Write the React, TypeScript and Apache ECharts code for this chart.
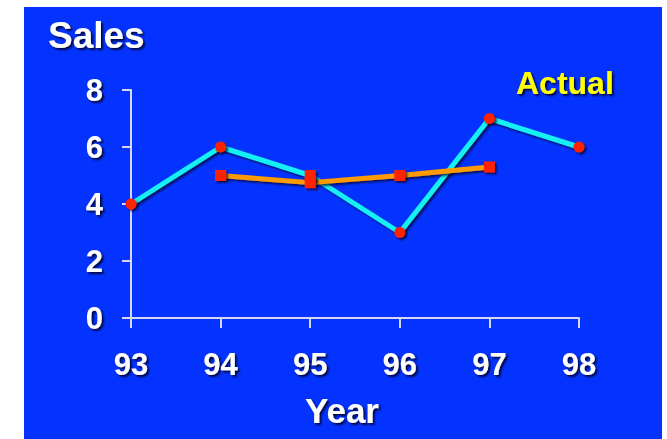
import React, { useEffect, useRef } from "react";
import * as echarts from "echarts";

// Year categories and the two sales series
const years = ["93", "94", "95", "96", "97", "98"];
const actualSales = [4, 6, 5, 3, 7, 6];
const plannedSales: (number | string)[] = ["-", 5, 4.75, 5, 5.3, "-"];
const yTicks = { min: 0, max: 8, interval: 2 };

const FONT = '"Liberation Sans", Arial, sans-serif';
const BLUE = "#0433ff";
const CYAN = "#14f0f5";
const ORANGE = "#ff9a00";
const RED = "#ff2200";
const AXIS = "#d6d8ee";

const textShadow = {
  textShadowColor: "rgba(0,0,30,0.85)",
  textShadowBlur: 2,
  textShadowOffsetX: 2,
  textShadowOffsetY: 2,
};

const lineShadow = {
  shadowColor: "rgba(0,0,30,0.7)",
  shadowBlur: 2,
  shadowOffsetX: 2,
  shadowOffsetY: 2,
};

export default function App() {
  const ref = useRef<HTMLDivElement>(null);

  useEffect(() => {
    if (!ref.current) return;
    const chart = echarts.init(ref.current, undefined, { renderer: "svg" });

    chart.setOption({
      animation: false,
      backgroundColor: "#ffffff",
      graphic: [
        {
          type: "rect",
          z: -10,
          silent: true,
          shape: { x: 24, y: 7, width: 638, height: 432 },
          style: { fill: BLUE },
        },
        {
          type: "text",
          x: 48,
          y: 17,
          style: {
            text: "Sales",
            fill: "#ffffff",
            font: `bold 37px ${FONT}`,
            ...textShadow,
          },
        },
        {
          type: "text",
          x: 342,
          y: 393,
          style: {
            text: "Year",
            fill: "#ffffff",
            font: `bold 35px ${FONT}`,
            align: "center",
            ...textShadow,
          },
        },
      ],
      legend: {
        data: ["Actual"],
        icon: "none",
        itemWidth: 0,
        itemGap: 0,
        left: 506,
        top: 62,
        textStyle: {
          color: "#ffff00",
          fontFamily: FONT,
          fontWeight: "bold",
          fontSize: 32,
          ...textShadow,
        },
      },
      grid: { left: 131, right: 88, top: 90, bottom: 121 },
      xAxis: {
        type: "category",
        data: years,
        boundaryGap: false,
        axisLine: { lineStyle: { color: AXIS, width: 2 } },
        axisTick: { show: true, length: 10, lineStyle: { color: AXIS, width: 2 } },
        axisLabel: {
          color: "#ffffff",
          fontFamily: FONT,
          fontWeight: "bold",
          fontSize: 31,
          margin: 31,
          ...textShadow,
        },
        splitLine: { show: false },
      },
      yAxis: {
        type: "value",
        min: yTicks.min,
        max: yTicks.max,
        interval: yTicks.interval,
        axisLine: { show: true, lineStyle: { color: AXIS, width: 2 } },
        axisTick: { show: true, length: 9, lineStyle: { color: AXIS, width: 2 } },
        axisLabel: {
          color: "#ffffff",
          fontFamily: FONT,
          fontWeight: "bold",
          fontSize: 31,
          margin: 28,
          ...textShadow,
        },
        splitLine: { show: false },
      },
      series: [
        {
          name: "Actual",
          type: "line",
          data: actualSales.map((v, i) => (i === 2 ? { value: v, symbol: "rect" } : v)),
          symbol: "circle",
          symbolSize: 11,
          lineStyle: { color: CYAN, width: 5, ...lineShadow },
          itemStyle: { color: RED, ...lineShadow },
        },
        {
          name: "Plan",
          type: "line",
          data: plannedSales,
          symbol: "rect",
          symbolSize: 11,
          lineStyle: { color: ORANGE, width: 5, ...lineShadow },
          itemStyle: { color: RED, ...lineShadow },
        },
      ],
    });

    return () => chart.dispose();
  }, []);

  return (
    <div
      ref={ref}
      style={{ position: "fixed", left: 0, top: 0, width: 667, height: 439 }}
    />
  );
}
